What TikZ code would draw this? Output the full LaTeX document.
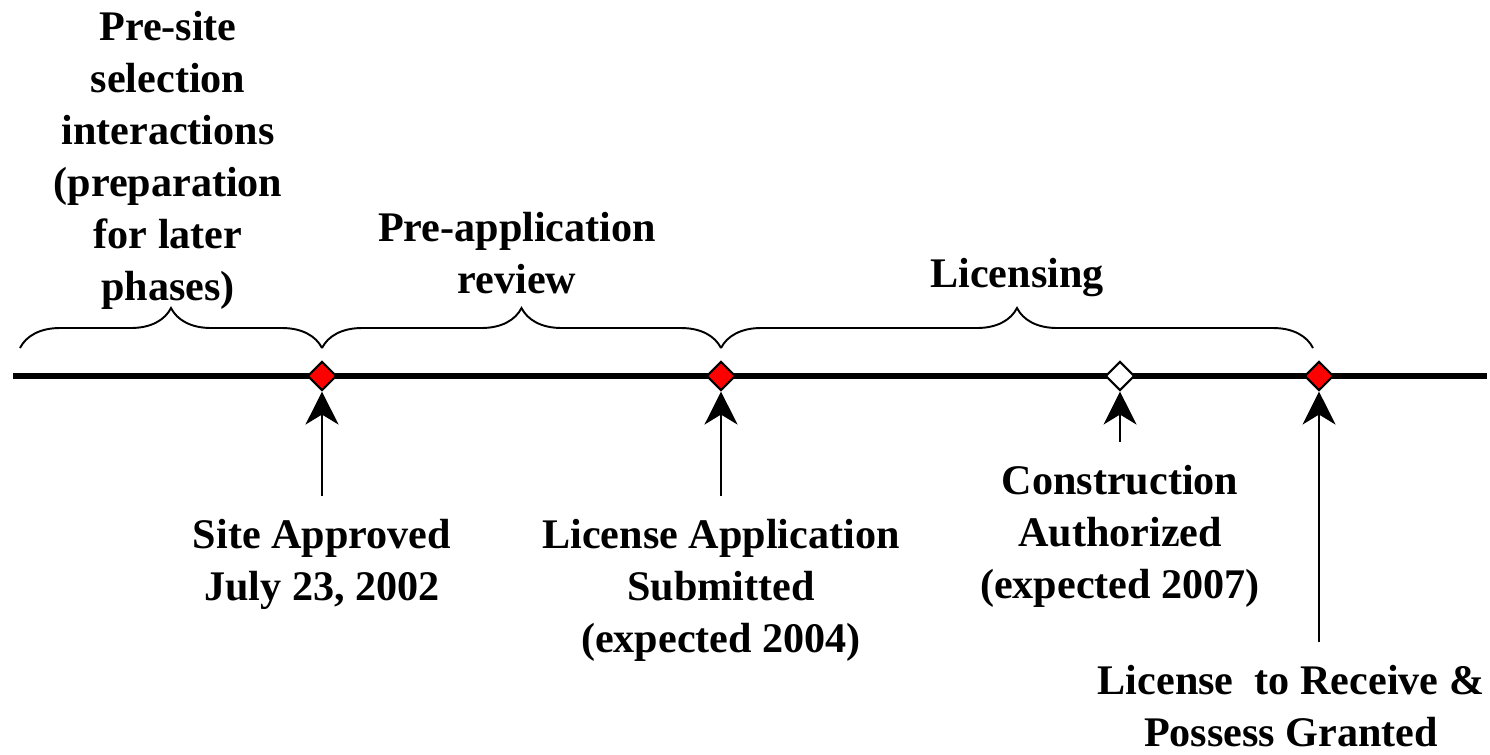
\documentclass[tikz,border=0pt]{standalone}
\usepackage{fontspec}
\setmainfont{Liberation Serif}
\usepackage{tikz}
\usetikzlibrary{decorations.pathreplacing,arrows.meta,shapes.geometric}

\begin{document}
\begin{tikzpicture}[x=0.02cm, y=-0.02cm,
			every node/.style = {align=center, inner sep=0pt,
				font=\fontsize{24}{29.6}\selectfont\bfseries},
			milestone/.style = {shape=diamond, draw, line width=1.2pt,
				fill=red, minimum size=0.58cm, inner sep=0pt},
			pending/.style = {milestone, fill=white},
			phase/.style = {decorate, line width=1.1pt,
				decoration={brace, amplitude=0.8cm}},
			pointer/.style = {line width=1.1pt,
				-{Stealth[length=0.66cm, width=0.66cm, inset=0.2cm]}, shorten <=0.45cm}]
			\useasboundingbox (0,0) rectangle (1490,754);
			% time line
			\draw[line width=3.4pt] (13,376) -- (1487,376);
			\node[milestone] (m1) at (322,376) {};
			\node[milestone] (m2) at (721,376) {};
			\node[pending] (m3) at (1120,376) {};
			\node[milestone] (m4) at (1319,376) {};
			% phases
			\draw[phase] (20,348) -- (m1.north |- 0,348);
			\draw[phase] (m1.north |- 0,348) -- (m2.north |- 0,348);
			\draw[phase] (m2.north |- 0,348) -- (1313,348);
			\node (presite) at (168,160) {Pre-site\\selection\\interactions\\(preparation\\for later\\phases)};
			\node (preapp) at (517,253) {Pre-application\\review};
			\node (licensing) at (1017,278) {Licensing};
			% events
			\node (site) at (322,564) {Site Approved\\July 23, 2002};
			\node (submit) at (721,590) {License Application\\Submitted\\(expected 2004)};
			\node (constr) at (1120,536) {Construction\\Authorized\\(expected 2007)};
			\node (granted) at (1291,706) {License\ \ to Receive \&\\Possess Granted};
			\draw[pointer] (site.north) -- (m1.south);
			\draw[pointer] (submit.north) -- (m2.south);
			\draw[pointer] (constr.north) -- (m3.south);
			\draw[pointer] (granted.north -| m4) -- (m4.south);
		\end{tikzpicture}
\end{document}
